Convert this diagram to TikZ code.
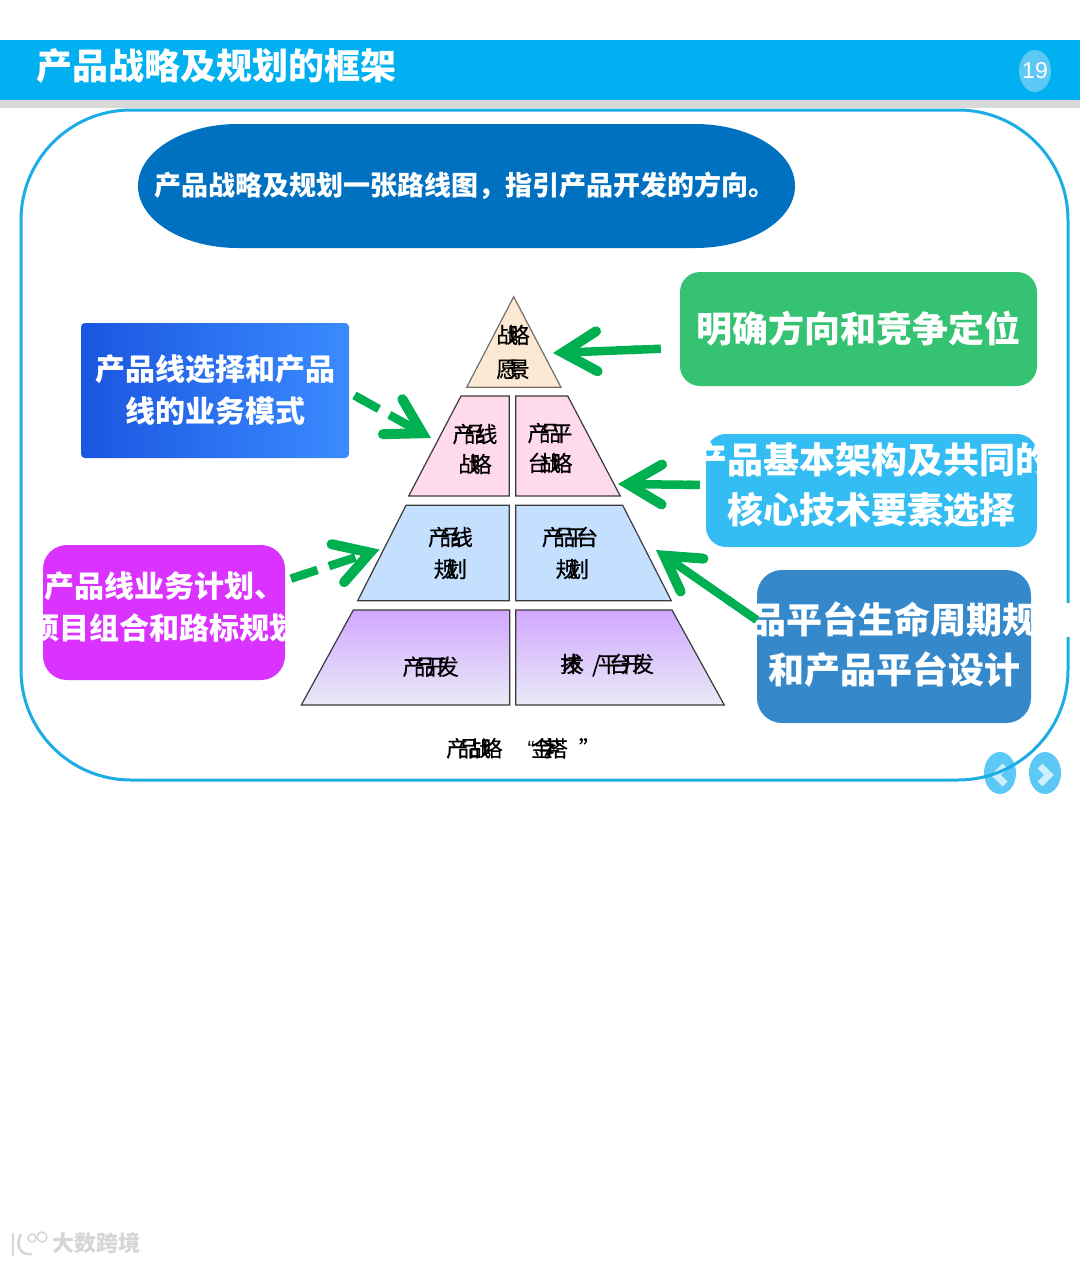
\documentclass[tikz,border=0pt]{standalone}
\usepackage{fontspec}
\usepackage{xcolor}
\usetikzlibrary{arrows.meta, calc, shapes.geometric}
\setmainfont{Noto Sans CJK SC}
\newfontfamily\latinfont{Liberation Sans}
\newfontfamily\tightcjk[LetterSpace=-48,FakeBold=0.4]{Noto Sans CJK SC}
\definecolor{bannerblue}{HTML}{00B0F0}
\definecolor{stripgrey}{HTML}{D9D9D9}
\definecolor{frameblue}{HTML}{1CADE4}
\definecolor{badgeblue}{HTML}{5CC8F5}
\definecolor{chevronpale}{HTML}{CDEEFB}
\definecolor{ovalblue}{HTML}{0070C0}
\definecolor{boxgreen}{HTML}{35C272}
\definecolor{boxcyan}{HTML}{33BDF2}
\definecolor{boxsteel}{HTML}{3589CB}
\definecolor{boxmagenta}{HTML}{DA33FF}
\definecolor{boxroyal}{HTML}{1A56E0}
\definecolor{boxsky}{HTML}{3B8BFF}
\definecolor{arrowgreen}{HTML}{00B050}
\definecolor{tierpeach}{HTML}{FCE9D4}
\definecolor{tierpink}{HTML}{FFD9EC}
\definecolor{tierblue}{HTML}{C5E0FF}
\definecolor{tierviolet}{HTML}{D2A8FF}
\definecolor{tierpale}{HTML}{E8EAF6}
\definecolor{tierline}{HTML}{3A3A3A}

\begin{document}
\begin{tikzpicture}[x=1pt,y=-1pt,
  box/.style={rounded corners=20pt, inner sep=0pt, text=white, font=\bfseries\fontsize{36}{50}\selectfont, align=center},
  smallbox/.style={box, font=\bfseries\fontsize{30}{42}\selectfont},
  tier/.style={draw=tierline, line width=1.2pt, line join=miter},
  tierlabel/.style={inner sep=0pt, align=center, font=\tightcjk\fontsize{22}{30}\selectfont},
  flow/.default=28,
  flow/.style={-{Butt Cap[length=0pt,sep=#1pt] Straight Barb[length=34pt,width=40pt,line width=10pt,line cap=round,line join=miter]}, arrowgreen, line width=8.5pt},
  flowdash/.style={flow, dash pattern=on 28pt off 12pt},
  badge/.style={fill=badgeblue, draw=none, ellipse, minimum width=32pt, minimum height=42pt, inner sep=0pt},
  chevron/.style={draw=chevronpale, line width=7pt, line join=miter}]
\useasboundingbox (0,0) rectangle (1080,1263);

\fill[bannerblue] (0,40) rectangle (1080,100);
\fill[stripgrey] (0,100) rectangle (1080,108);
\node[anchor=west, inner sep=0pt, text=white, font=\bfseries\fontsize{36}{40}\selectfont](title) at (36,66) {产品战略及规划的框架};
\node[badge](pagebadge) at (1035,71) {};
\node[inner sep=0pt, text=white, font=\latinfont\fontsize{23}{26}\selectfont](pageno) at (pagebadge) {19};

\node[badge](prevbtn) at (1000,773) {};
\node[badge](nextbtn) at (1045,773) {};
\draw[chevron] (1005,766) -- (996,775) -- (1005,784);
\draw[chevron] (1040,766) -- (1049,775) -- (1040,784);

\draw[frameblue, line width=3pt, rounded corners=110pt] (21,110) rectangle (1068,780);
\fill[white] (1032,603) rectangle (1075,637);

\fill[ovalblue] (238,124) -- (695,124) arc[start angle=90, end angle=-90, x radius=100pt, y radius=62pt] -- (238,248) arc[start angle=270, end angle=90, x radius=100pt, y radius=62pt] -- cycle;
\node[inner sep=0pt, text=white, font=\bfseries\fontsize{27}{32}\selectfont](vision) at (465,186) {产品战略及规划一张路线图，指引产品开发的方向。};

\node[box, fill=boxgreen, minimum width=357pt, minimum height=114pt](direction) at (858.5,329) {明确方向和竞争定位};
\node[smallbox, rounded corners=4pt, left color=boxroyal, right color=boxsky, minimum width=268pt, minimum height=135pt](linemodel) at (215,390.5) {产品线选择和产品\\线的业务模式};
\node[box, fill=boxcyan, minimum width=331pt, minimum height=113pt](corebox) at (871.5,490.5) {};
\node[box, fill=boxsteel, rounded corners=25pt, minimum width=274pt, minimum height=153pt](cyclebox) at (894,646.5) {};
\node[box, fill=boxmagenta, rounded corners=24pt, minimum width=242pt, minimum height=135pt](planbox) at (164,612.5) {};

\begin{scope}
\clip (corebox.south west) rectangle (corebox.north east);
\node[box](coretext) at (871.5,485) {产品基本架构及共同的\\核心技术要素选择};
\end{scope}
\begin{scope}
\clip (cyclebox.south west) rectangle (cyclebox.north east);
\node[box](cycletext) at (894,645) {产品平台生命周期规划\\和产品平台设计};
\end{scope}
\begin{scope}
\clip (planbox.south west) rectangle (planbox.north east);
\node[smallbox](plantext) at (164,607.5) {产品线业务计划、\\项目组合和路标规划};
\end{scope}

\draw[tier, fill=tierpeach, draw=tierline!70!tierpeach] (513.7,296.7) -- (561,387.3) -- (466.7,387.3) -- cycle;
\draw[tier, fill=tierpink] (461,396) -- (509.3,396) -- (509.3,496) -- (408.7,496) -- cycle;
\draw[tier, fill=tierpink] (515.7,396) -- (567.7,396) -- (620.3,496) -- (515.7,496) -- cycle;
\draw[tier, fill=tierblue] (406,505.3) -- (509.3,505.3) -- (509.3,600.7) -- (357.7,600.7) -- cycle;
\draw[tier, fill=tierblue] (515.7,505.3) -- (622.7,505.3) -- (671.3,600.7) -- (515.7,600.7) -- cycle;
\draw[tier, top color=tierviolet, bottom color=tierpale] (353.3,610) -- (509.7,610) -- (509.7,705) -- (301.3,705) -- cycle;
\draw[tier, top color=tierviolet, bottom color=tierpale] (515.7,610) -- (672,610) -- (724.3,705) -- (515.7,705) -- cycle;

\node[tierlabel](apexlbl) at (513,352) {战略\\[4pt]愿景};
\node[tierlabel](linestrat) at (475,449) {产品线\\战略};
\node[tierlabel](platstrat) at (550,448) {产品平\\台战略};
\node[tierlabel](lineplan) at (450.5,553) {产品线\\[2pt]规划};
\node[tierlabel](platplan) at (570,553) {产品平台\\[2pt]\hspace{5pt}规划};
\node[tierlabel](proddev) at (430.7,666.7) {产品开发};
\node[tierlabel, anchor=west](techdev) at (560,665) {技\hspace{-20pt}术\hspace{8pt}/\hspace{-3pt}平台开发};
\node[tierlabel, anchor=west](pyrcaption) at (446,748.3) {产品战略\hspace{25pt}{\latinfont “}\hspace{-4pt}金\hspace{-14.5pt}字\hspace{-14.5pt}塔\hspace{11pt}”};

\coordinate (apextip) at (553,353);
\coordinate (linetip) at (431,438);
\coordinate (coretip) at (618,484);
\coordinate (plantip) at (379.5,549.5);
\coordinate (cycletip) at (656,550);

\draw[flow=30, shorten <=19pt] ([yshift=-19pt]direction.west) -- (apextip);
\draw[flowdash, shorten <=6pt] ([yshift=-2pt]linemodel.east) -- (linetip);
\draw[flow=20, shorten <=6pt] ([yshift=5.5pt]corebox.west) -- (coretip);
\draw[flowdash, shorten <=6pt] ([yshift=32pt]planbox.east) -- (plantip);
\draw[flow=38] ([yshift=26.5pt]cyclebox.west) -- (cycletip);

\node[anchor=west, inner sep=0pt, text=black!16, font=\bfseries\fontsize{22}{24}\selectfont](brand) at (52,1243) {大数跨境};
\draw[black!16, line width=2.5pt] (13,1233) -- (13,1256);
\draw[black!16, line width=2.5pt] (21,1234) .. controls (15,1245) and (20,1256) .. (32,1254);
\draw[black!16, line width=1.5pt] (32,1238) circle[radius=4];
\draw[black!16, line width=1.5pt] (42,1237) circle[radius=5];

\end{tikzpicture}
\end{document}
